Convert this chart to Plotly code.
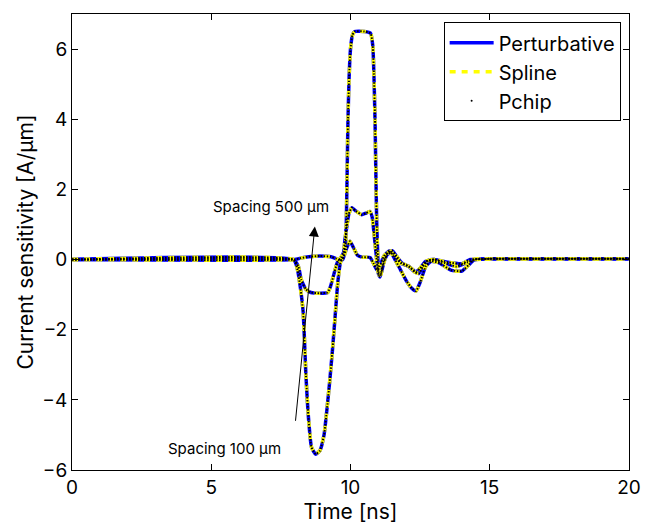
import plotly.graph_objects as go

# ---- data ----
t_s100 = [0, 7.9, 8.0, 8.1, 8.2, 8.3, 8.4, 8.5, 8.6, 8.75, 8.9, 9.05, 9.15, 9.25, 9.35, 9.45,
          9.55, 9.65, 9.75, 9.82, 9.85, 9.88, 9.91, 9.95, 10.0, 10.07, 10.15, 10.5, 10.72,
          10.8, 10.84, 10.88, 10.91, 10.94, 10.98, 11.03, 11.1, 11.2, 11.35, 11.5, 11.65,
          11.85, 12.1, 12.3, 12.45, 12.6, 12.8, 13.0, 13.4, 13.8, 14.2, 14.5, 15, 20]
v_s100 = [0, 0, -0.05, -0.3, -0.8, -1.5, -3.3, -4.6, -5.35, -5.55, -5.45, -5.0, -4.3, -3.5, -2.6, -1.6,
          -0.6, -0.05, 0.1, 0.4, 1.1, 2.5, 4.0, 5.2, 6.0, 6.4, 6.5, 6.5, 6.45,
          6.1, 5.3, 4.0, 2.5, 1.1, 0.1, -0.45, -0.4, -0.05, 0.2, 0.25, 0.1,
          -0.1, -0.2, -0.35, -0.4, -0.2, -0.02, 0.0, -0.1, -0.2, -0.08, 0.0, 0.02, 0.02]

t_s300 = [0, 7.95, 8.13, 8.23, 8.4, 8.58, 8.9, 9.18, 9.28, 9.42, 9.53, 9.65, 9.75, 9.8, 9.87,
          9.94, 10.05, 10.2, 10.4, 10.55, 10.7, 10.78, 10.85, 10.93, 11.0, 11.06, 11.15,
          11.3, 11.45, 11.6, 11.8, 12.0, 12.2, 12.35, 12.5, 12.7, 12.9, 13.2, 13.6, 14.0,
          14.25, 14.45, 15, 20]
v_s300 = [0, 0, -0.2, -0.57, -0.85, -0.94, -0.96, -0.94, -0.77, -0.37, -0.08, 0.05, 0.2, 0.57, 0.95,
          1.3, 1.48, 1.38, 1.28, 1.32, 1.37, 1.2, 0.7, 0.08, -0.4, -0.5, -0.2,
          0.12, 0.2, 0.0, -0.3, -0.6, -0.82, -0.9, -0.65, -0.2, -0.05, -0.1, -0.3, -0.33,
          -0.15, 0.0, 0.02, 0.02]

t_s500 = [0, 8.0, 8.2, 8.5, 8.9, 9.3, 9.5, 9.62, 9.72, 9.85, 9.98, 10.1, 10.25, 10.4, 10.7,
          10.82, 10.95, 11.05, 11.2, 11.4, 11.55, 11.8, 12.1, 12.35, 12.5, 12.7, 13.0, 13.5,
          14.0, 14.3, 15, 20]
v_s500 = [0, 0, 0.04, 0.08, 0.1, 0.08, 0.02, -0.03, 0.0, 0.3, 0.52, 0.35, 0.12, 0.07, 0.06,
          -0.1, -0.3, -0.2, 0.1, 0.25, 0.15, -0.1, -0.2, -0.35, -0.25, -0.05, 0.0, -0.08,
          -0.12, 0.0, 0.02, 0.02]

series = [(t_s100, v_s100), (t_s300, v_s300), (t_s500, v_s500)]

legend_names = ["Perturbative", "Spline", "Pchip"]

x_range = [0, 20]
y_range = [-6, 7]
x_ticks = [0, 5, 10, 15, 20]
y_ticks = [-6, -4, -2, 0, 2, 4, 6]

FONT = "Inter, Liberation Sans, Arial, sans-serif"

fig = go.Figure()

# Perturbative: blue solid
for i, (t, v) in enumerate(series):
    fig.add_trace(go.Scatter(x=t, y=v, mode="lines", name=legend_names[0],
                             line=dict(color="#0000ff", width=3.5, shape="spline", smoothing=0.5),
                             showlegend=(i == 0), legendrank=1))
# Spline: yellow dashed
for i, (t, v) in enumerate(series):
    fig.add_trace(go.Scatter(x=t, y=v, mode="lines", name=legend_names[1],
                             line=dict(color="#ffff00", width=3.5, dash="6px,6px", shape="spline", smoothing=0.5),
                             showlegend=(i == 0), legendrank=2))
# Pchip: black dots
for i, (t, v) in enumerate(series):
    fig.add_trace(go.Scatter(x=t, y=v, mode="lines", name=legend_names[2],
                             line=dict(color="#000000", width=2, dash="1.5px,1.5px", shape="spline", smoothing=0.5),
                             showlegend=False, legendgroup="pchip"))
# legend entry for Pchip (a single dot, as in the original)
fig.add_trace(go.Scatter(x=[None], y=[None], mode="markers", name=legend_names[2],
                         marker=dict(color="black", size=2), legendrank=3, legendgroup="pchip"))

axis_common = dict(showline=True, linecolor="black", linewidth=1, mirror="allticks",
                   ticks="inside", ticklen=6, tickcolor="black", showgrid=False, zeroline=False,
                   tickfont=dict(family=FONT, size=19, color="black"))

fig.update_xaxes(range=x_range, tickvals=x_ticks, ticktext=[str(v) for v in x_ticks],
                 title=dict(text="Time [ns]", font=dict(family=FONT, size=21, color="black"), standoff=0),
                 **axis_common)
fig.update_yaxes(range=y_range, tickvals=y_ticks, ticktext=[("\u2212" + str(-v)) if v < 0 else str(v) for v in y_ticks],
                 title=dict(text="Current sensitivity [A/\u03bcm]", font=dict(family=FONT, size=21, color="black"), standoff=2),
                 **axis_common)

fig.add_annotation(x=8.72, y=0.94, ax=8.02, ay=-4.64, xref="x", yref="y", axref="x", ayref="y",
                   showarrow=True, arrowhead=2, arrowsize=2, arrowwidth=1, arrowcolor="black", text="")
fig.add_annotation(x=7.14, y=1.5, text="Spacing 500 \u03bcm", showarrow=False,
                   font=dict(family=FONT, size=15, color="black"))
fig.add_annotation(x=5.46, y=-5.4, text="Spacing 100 \u03bcm", showarrow=False,
                   font=dict(family=FONT, size=15, color="black"))

fig.update_layout(
    width=653, height=525,
    margin=dict(l=72, r=12, t=14, b=53),
    plot_bgcolor="white", paper_bgcolor="white",
    legend=dict(x=0.985, y=0.982, xanchor="right", yanchor="top",
                bgcolor="white", bordercolor="black", borderwidth=1,
                font=dict(family=FONT, size=20, color="black"),
                tracegroupgap=0, itemwidth=44),
)

fig.write_html(
    "out.html",
    config={"displayModeBar": False},
    post_script=("document.documentElement.style.margin='0';document.documentElement.style.overflow='hidden';"
                 "document.body.style.margin='0';document.body.style.padding='0';document.body.style.overflow='hidden';"),
)
